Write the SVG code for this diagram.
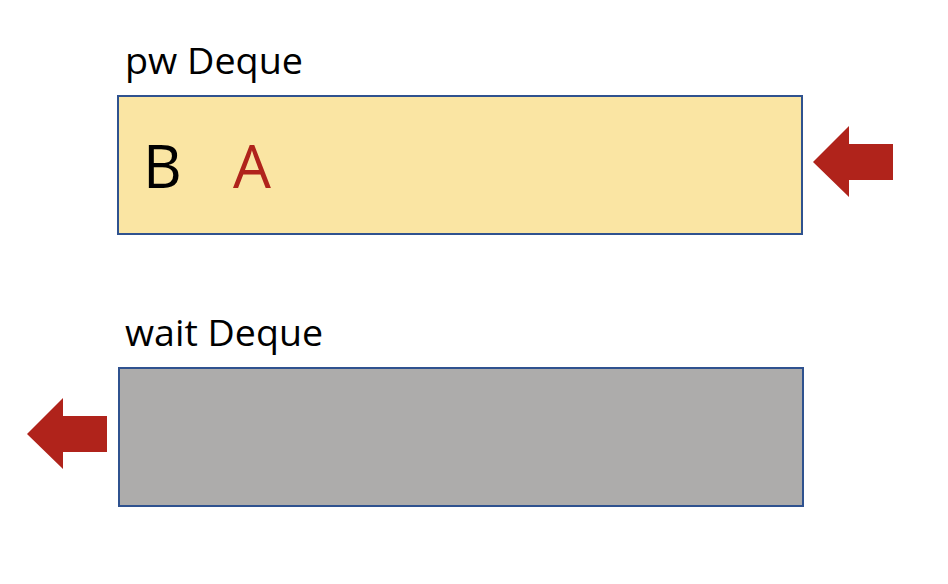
<svg xmlns="http://www.w3.org/2000/svg" width="948" height="584" viewBox="0 0 948 584">
<style>
.lbl{font-family:"Open Sans","Noto Sans",sans-serif;font-size:37px;fill:#000}
.item{font-family:"Open Sans","Noto Sans",sans-serif;font-size:60px}
.box{stroke:#2F528F;stroke-width:2}
.arrow{fill:#B0231B}
</style>
<rect width="948" height="584" fill="#fff"/>
<g id="pw-deque">
<text class="lbl" x="125" y="74" textLength="178" lengthAdjust="spacingAndGlyphs">pw Deque</text>
<rect class="box" x="118" y="96" width="684" height="138" fill="#FAE5A3"/>
<text class="item" x="143" y="188" fill="#000">B</text>
<text class="item" x="233" y="188" fill="#B0231B">A</text>
</g>
<g id="wait-deque">
<text class="lbl" x="125" y="346" textLength="198" lengthAdjust="spacingAndGlyphs">wait Deque</text>
<rect class="box" x="119" y="368" width="684" height="138" fill="#ADACAB"/>
</g>
<g id="connectors">
<polygon class="arrow" points="813,162 849,126 849,144 893,144 893,180 849,180 849,197"/>
<polygon class="arrow" points="27,434 63,398 63,416 107,416 107,452 63,452 63,469"/>
</g>
</svg>
